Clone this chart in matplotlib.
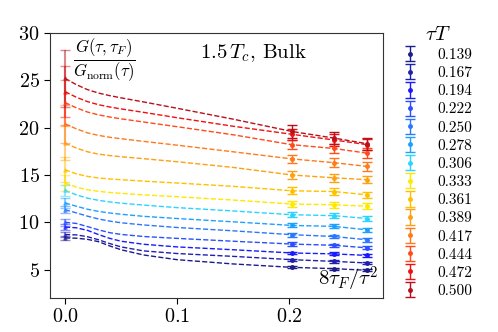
#!/usr/bin/env python3

import numpy as np
import matplotlib
matplotlib.use('Agg')
import matplotlib.pyplot as plt

plt.rcParams['font.family'] = 'serif'
plt.rcParams['font.serif'] = ['cmr10', 'DejaVu Serif']
plt.rcParams['mathtext.fontset'] = 'cm'
plt.rcParams['axes.formatter.use_mathtext'] = True

tauT = ['0.139', '0.167', '0.194', '0.222', '0.250', '0.278', '0.306',
        '0.333', '0.361', '0.389', '0.417', '0.444', '0.472', '0.500']

# sample positions of the dashed curves (8 tau_F / tau^2)
curve_x = [0.0, 0.01, 0.02, 0.03, 0.04, 0.05, 0.07, 0.1, 0.15, 0.2025, 0.24, 0.27]
curves = [
    [8.35, 8.32, 8.2, 7.95, 7.5, 7.1, 6.55, 6.05, 5.6, 5.24, 5.1, 4.93],
    [8.7, 8.67, 8.48, 8.15, 7.75, 7.4, 6.98, 6.7, 6.4, 6.05, 5.87, 5.7],
    [9.5, 9.42, 9.15, 8.7, 8.3, 8.0, 7.68, 7.4, 7.1, 6.76, 6.66, 6.5],
    [10.0, 9.88, 9.55, 9.2, 8.9, 8.72, 8.5, 8.3, 8.0, 7.7, 7.57, 7.3],
    [11.33, 11.0, 10.65, 10.35, 10.12, 9.95, 9.72, 9.45, 9.1, 8.69, 8.5, 8.15],
    [12.04, 11.7, 11.38, 11.15, 10.98, 10.85, 10.63, 10.4, 10.05, 9.67, 9.57, 9.2],
    [13.37, 12.9, 12.55, 12.32, 12.15, 12.02, 11.82, 11.55, 11.2, 10.8, 10.7, 10.4],
    [14.15, 13.72, 13.43, 13.27, 13.15, 13.06, 12.9, 12.7, 12.35, 11.93, 11.85, 11.7],
    [15.55, 15.12, 14.85, 14.68, 14.58, 14.5, 14.35, 14.15, 13.8, 13.33, 13.25, 12.9],
    [18.35, 17.85, 17.45, 17.2, 17.05, 16.93, 16.72, 16.4, 15.8, 15.0, 14.7, 14.5],
    [20.4, 19.88, 19.45, 19.18, 18.98, 18.83, 18.55, 18.15, 17.45, 16.7, 16.3, 15.9],
    [22.65, 22.1, 21.65, 21.35, 21.12, 20.93, 20.6, 20.1, 19.25, 18.2, 17.8, 17.3],
    [23.8, 23.22, 22.75, 22.42, 22.18, 21.98, 21.62, 21.05, 20.15, 19.3, 18.7, 18.2],
    [25.2, 24.55, 24.02, 23.65, 23.38, 23.15, 22.72, 22.05, 20.9, 19.6, 18.9, 18.3],
]

# measured flow times and their errors
flow_x = [0.2025, 0.24, 0.27]
flow_err = [0.1, 0.12, 0.15, 0.17, 0.2, 0.22, 0.25,
            0.3, 0.35, 0.4, 0.45, 0.5, 0.6, 0.65]
# continuum extrapolation at tau_F -> 0
extrap_err = [0.2, 0.25, 0.3, 0.35, 0.4, 0.5, 0.6,
              0.8, 1.3, 1.8, 2.0, 2.4, 2.7, 3.0]

colors = ['#1c1c8a', '#2020b0', '#1a1aff', '#2a50ff', '#2a78ff', '#1ea0ff', '#2ad4ff',
          '#ffe800', '#ffc000', '#ffa010', '#ff7a1a', '#ff4a1a', '#f01010', '#b8101c']

fig = plt.figure(figsize=(4.98, 3.32), dpi=100)
ax = fig.add_axes([0.1004, 0.1024, 0.6687, 0.7982])

handles = []
for i in range(len(tauT)):
    c = colors[i]
    ax.plot(curve_x, curves[i], '--', color=c, lw=1.0, zorder=2)
    yv = [curves[i][curve_x.index(x)] for x in flow_x]
    h = ax.errorbar(flow_x, yv, yerr=flow_err[i], fmt='o', color=c, ms=2.5,
                    capsize=3.5, elinewidth=1.0, capthick=1.0, zorder=3)
    ax.errorbar([0.0], [curves[i][0]], yerr=extrap_err[i], fmt='^', color=c, ms=2.5,
                capsize=3.5, elinewidth=1.5, capthick=1.0, alpha=0.5, zorder=3)
    handles.append(h)

ax.set_xlim(-0.0134, 0.284)
ax.set_ylim(2, 30)
ax.set_xticks([0.0, 0.1, 0.2])
ax.set_yticks([5, 10, 15, 20, 25, 30])
ax.tick_params(labelsize=14.5, direction='out', length=4, top=False, right=False)
for s in ax.spines.values():
    s.set_color('#333333')

ax.text(0.07, 0.99, r'$\dfrac{G(\tau,\tau_F)}{G_\mathrm{norm}(\tau)}$',
        transform=ax.transAxes, fontsize=12, ha='left', va='top')
ax.text(0.45, 0.965, r'$1.5\,T_c$, Bulk', transform=ax.transAxes,
        fontsize=15, ha='left', va='top')
ax.text(0.985, 0.015, r'$8\tau_F/\tau^2$', transform=ax.transAxes,
        fontsize=15, ha='right', va='bottom')

leg = fig.legend(handles, tauT, title=r'$\tau T$', loc='upper left',
                 bbox_to_anchor=(0.795, 0.945), frameon=False, fontsize=11,
                 title_fontsize=15, handlelength=0.8, handletextpad=1.4,
                 labelspacing=0.29, borderpad=0.0)

fig.savefig('out.png', dpi=100)
